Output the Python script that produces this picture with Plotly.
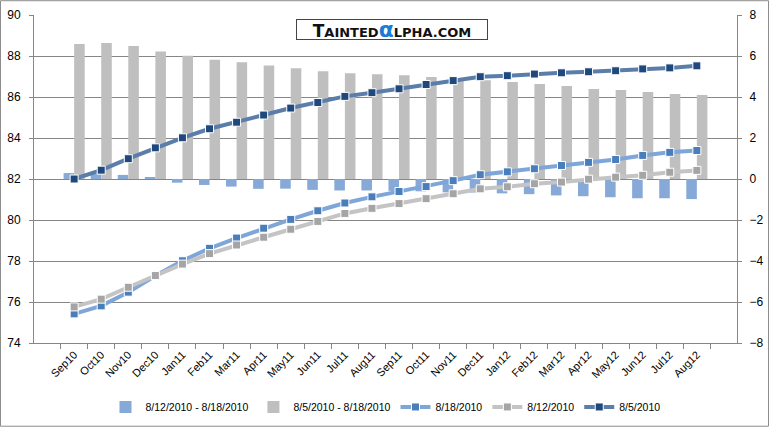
import plotly.graph_objects as go

months = ["Sep10", "Oct10", "Nov10", "Dec10", "Jan11", "Feb11", "Mar11", "Apr11",
          "May11", "Jun11", "Jul11", "Aug11", "Sep11", "Oct11", "Nov11", "Dec11",
          "Jan12", "Feb12", "Mar12", "Apr12", "May12", "Jun12", "Jul12", "Aug12"]

diff_12_18 = [0.29, 0.24, 0.20, 0.06, -0.18, -0.29, -0.37, -0.48, -0.47, -0.53, -0.56, -0.56,
              -0.58, -0.60, -0.65, -0.66, -0.70, -0.74, -0.80, -0.84, -0.89, -0.94, -0.94, -0.98]
diff_5_18 = [6.58, 6.63, 6.49, 6.22, 6.01, 5.82, 5.69, 5.54, 5.40, 5.26, 5.16, 5.11,
             5.06, 4.97, 4.85, 4.82, 4.73, 4.63, 4.54, 4.39, 4.34, 4.25, 4.15, 4.10]
price_0818 = [75.42, 75.81, 76.48, 77.28, 78.01, 78.62, 79.12, 79.60, 80.03, 80.45, 80.83, 81.13,
              81.39, 81.63, 81.92, 82.21, 82.35, 82.50, 82.66, 82.81, 82.95, 83.15, 83.30, 83.39]
price_0812 = [75.76, 76.14, 76.72, 77.29, 77.85, 78.36, 78.78, 79.16, 79.55, 79.93, 80.32, 80.57,
              80.80, 81.04, 81.28, 81.52, 81.62, 81.77, 81.85, 81.99, 82.09, 82.18, 82.33, 82.42]
price_0805 = [82.00, 82.43, 82.99, 83.52, 84.01, 84.45, 84.77, 85.12, 85.46, 85.73, 86.03, 86.21,
              86.40, 86.61, 86.80, 86.99, 87.04, 87.12, 87.18, 87.23, 87.28, 87.37, 87.42, 87.52]

left_ticks = [74, 76, 78, 80, 82, 84, 86, 88, 90]
right_ticks = [-8, -6, -4, -2, 0, 2, 4, 6, 8]

GRID = "#868686"
FONT = "Liberation Sans"

fig = go.Figure()
fig.add_trace(go.Bar(x=months, y=diff_12_18, name="8/12/2010 - 8/18/2010",
                     marker=dict(color="#86A9D7", line=dict(width=0)), yaxis="y"))
fig.add_trace(go.Bar(x=months, y=diff_5_18, name="8/5/2010 - 8/18/2010",
                     marker=dict(color="#BFBFBF", line=dict(width=0)), yaxis="y"))

def line_trace(vals, name, lc, mc):
    return go.Scatter(x=months, y=vals, name=name, mode="lines+markers", yaxis="y2",
                      line=dict(color=lc, width=4),
                      marker=dict(symbol="square", size=8, color=mc,
                                  line=dict(color="white", width=1)))

fig.add_trace(line_trace(price_0818, "8/18/2010", "#7FA6D9", "#4A7EBB"))
fig.add_trace(line_trace(price_0812, "8/12/2010", "#C4C4C4", "#A5A5A5"))
fig.add_trace(line_trace(price_0805, "8/5/2010", "#5B7DAA", "#1F497D"))

fig.update_layout(
    width=769, height=433,
    margin=dict(l=34, r=32, t=15, b=85),
    paper_bgcolor="white", plot_bgcolor="white",
    font=dict(family=FONT, size=11, color="black"),
    barmode="group", bargap=0.22, bargroupgap=0,
    showlegend=True,
    legend=dict(orientation="h", x=0.5, xanchor="center", y=-0.195, yanchor="middle",
                font=dict(family=FONT, size=10.5), traceorder="normal",
                itemwidth=30, tracegroupgap=0),
    xaxis=dict(type="category", showgrid=False, showline=True, linecolor=GRID,
               ticks="outside", tickson="boundaries", ticklen=5, tickcolor=GRID,
               tickangle=-45, tickfont=dict(size=11, family=FONT), automargin=False),
    yaxis=dict(side="right", range=[-8, 8], tickvals=right_ticks, showgrid=True,
               gridcolor=GRID, gridwidth=1, zeroline=False, showline=True, linecolor=GRID,
               ticks="outside", ticklen=4, tickcolor=GRID, ticklabelstandoff=5,
               tickfont=dict(size=12, family=FONT), automargin=False),
    yaxis2=dict(side="left", overlaying="y", range=[74, 90], tickvals=left_ticks,
                showgrid=False, zeroline=False, showline=True, linecolor=GRID,
                ticks="outside", ticklen=4, tickcolor=GRID, ticklabelstandoff=6,
                tickfont=dict(size=12, family=FONT), automargin=False),
)

fig.add_annotation(
    xref="paper", yref="paper", x=(392 - 34) / 703, y=(348 - 29.5) / 333,
    xanchor="center", yanchor="middle", showarrow=False,
    text=("<b>T<span style='font-size:13px'>AINTED</span>"
          "<span style='font-size:22px;color:#1C7CD5'>α</span>"
          "<span style='font-size:13px'>LPHA.COM</span></b>"),
    font=dict(family="DejaVu Sans", size=17, color="#111111"),
    bgcolor="white", bordercolor="#444444", borderwidth=1, width=188, height=17,
    borderpad=1,
)

fig.add_shape(type="rect", xref="paper", yref="paper",
              x0=-33.5 / 703, x1=(768.5 - 34) / 703, y0=-(432.5 - 348) / 333, y1=(348 - 0.5) / 333,
              line=dict(color="#8C8C8C", width=1), fillcolor="rgba(0,0,0,0)", layer="below")

fig.write_html("out.html", config={"displayModeBar": False},
               post_script="document.body.style.margin='0';document.body.style.overflow='hidden';")
